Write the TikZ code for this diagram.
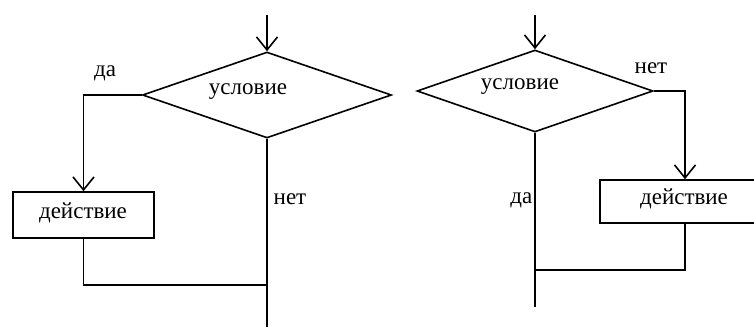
\documentclass[tikz,border=0pt]{standalone}
\usepackage{fontspec}
\setmainfont{Liberation Serif}
\usetikzlibrary{shapes.geometric,arrows.meta}
\begin{document}
\begin{tikzpicture}[x=1pt,y=-1pt,
  line width=1.6pt,
  txt/.style={font=\fontsize{23}{26}\selectfont, inner sep=0pt},
  cond/.style={draw, diamond, inner sep=0pt},
  act/.style={draw, rectangle, inner sep=0pt},
  flow/.style={-{Straight Barb[length=13pt,width=21pt]}}]
\useasboundingbox (0,0) rectangle (754,329);

% left fragment: branch taken on "да"
\coordinate (in1) at (267,15);
\node[cond, minimum width=249pt, minimum height=86pt] (d1) at (267,95) {};
\node[txt] (c1) at (248,92) {условие};
\node[act, minimum width=141pt, minimum height=46pt] (b1) at (83.5,215) {};
\node[txt] (a1) at (83,213) {действие};
\coordinate (j1) at (267,285);
\coordinate (out1) at (267,327);
\node[txt] (yes1) at (105,73) {да};
\node[txt] (no1) at (290,199) {нет};
\draw[flow] (in1) -- (d1.north);
\draw[flow] (d1.west) -| (b1.north);
\draw (b1.south) |- (j1);
\draw (d1.south) -- (out1);

% right fragment: branch taken on "нет"
\coordinate (in2) at (535,15);
\node[cond, minimum width=236pt, minimum height=82pt] (d2) at (535,91) {};
\node[txt] (c2) at (520,87) {условие};
\node[act, minimum width=170pt, minimum height=43pt] (b2) at (685,201.5) {};
\node[txt] (a2) at (684,199) {действие};
\coordinate (j2) at (535,270);
\coordinate (out2) at (535,307);
\node[txt] (no2) at (651,68) {нет};
\node[txt, anchor=east] (yes2) at (533,200) {да};
\draw[flow] (in2) -- (d2.north);
\draw[flow] (d2.east) -| (b2.north);
\draw (b2.south) |- (j2);
\draw (d2.south) -- (out2);
\end{tikzpicture}
\end{document}
